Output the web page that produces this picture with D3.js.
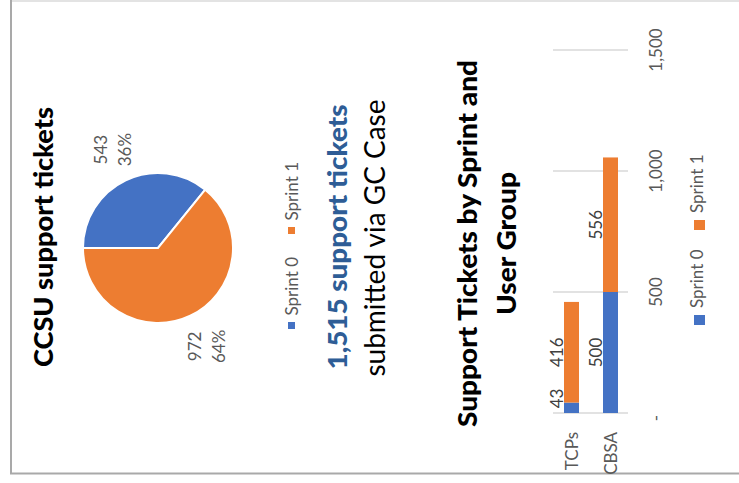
<!DOCTYPE html>
<html>
<head>
<meta charset="utf-8">
<script src="https://cdn.jsdelivr.net/npm/d3@7"></script>
<style>
  html, body { margin: 0; padding: 0; background: #ffffff; }
  svg { display: block; font-family: Lato, "Open Sans", sans-serif; }
</style>
</head>
<body>
<svg id="chart" width="739" height="483"></svg>
<script>
// ---- data ----
const seriesNames = ["Sprint 0", "Sprint 1"];
const pieValues = [543, 972];
const categories = ["TCPs", "CBSA"];
const sprint0 = [43, 500];
const sprint1 = [416, 556];
const valueTicks = [0, 500, 1000, 1500];
const tickLabels = ["-", "500", "1,000", "1,500"];
const pieTitle = "CCSU support tickets";
const barTitle = ["Support Tickets by Sprint and", "User Group"];
const subText = "submitted via GC Case";

// ---- style ----
const colors = ["#4472C4", "#ED7D31"];
const gray = "#595959";
const svg = d3.select("#chart");

// frame
svg.append("line").attr("x1", 11).attr("x2", 739).attr("y1", 1).attr("y2", 1)
  .attr("stroke", "#e3e3e3").attr("stroke-width", 2);
svg.append("line").attr("x1", 11).attr("x2", 11).attr("y1", 0).attr("y2", 474)
  .attr("stroke", "#a9a9a9").attr("stroke-width", 2);
svg.append("line").attr("x1", 10).attr("x2", 739).attr("y1", 473.5).attr("y2", 473.5)
  .attr("stroke", "#a9a9a9").attr("stroke-width", 2);

function rotText(x, y, txt, opts) {
  const t = svg.append("text")
    .attr("transform", `translate(${x},${y}) rotate(-90)`)
    .attr("text-anchor", opts.anchor || "middle")
    .attr("font-size", opts.size)
    .attr("font-weight", opts.weight || "normal")
    .attr("fill", opts.fill || "#000")
    .text(txt);
  if (opts.len) t.attr("textLength", opts.len).attr("lengthAdjust", "spacingAndGlyphs");
  return t;
}

// ---- pie ----
rotText(53, 237, pieTitle, { size: 27, weight: 900, len: 260 });

const cx = 158, cy = 248, r = 75;
const total = d3.sum(pieValues);
const pie = d3.pie().sort(null).startAngle(-Math.PI / 2).endAngle(3 * Math.PI / 2);
const arcs = pie(pieValues);
const arc = d3.arc().innerRadius(0).outerRadius(r);
const labelArc = d3.arc().innerRadius(109).outerRadius(109);
const pg = svg.append("g").attr("transform", `translate(${cx},${cy})`);
pg.selectAll("path").data(arcs).join("path")
  .attr("d", arc)
  .attr("fill", (d, i) => colors[i])
  .attr("stroke", "#ffffff").attr("stroke-width", 2);

const pct = d3.format(".0%");
arcs.forEach((d, i) => {
  const [lx, ly] = labelArc.centroid(d);
  const t = pg.append("text")
    .attr("transform", `translate(${lx},${ly}) rotate(-90)`)
    .attr("text-anchor", "middle")
    .attr("font-size", 17)
    .attr("fill", gray);
  t.append("tspan").attr("x", 0).attr("y", -4).text(d3.format(",")(d.data));
  t.append("tspan").attr("x", 0).attr("y", 20).text(pct(d.data / total));
});

// pie legend
const pieLegY = [325.5, 230.5];
seriesNames.forEach((s, i) => {
  svg.append("rect").attr("x", 288).attr("y", pieLegY[i] - 3.5).attr("width", 7).attr("height", 7)
    .attr("fill", colors[i]);
  rotText(298, pieLegY[i] - 10, s, { size: 17, anchor: "start", fill: gray });
});

// big numbers
rotText(347, 237, d3.format(",")(total) + " support tickets",
  { size: 27, weight: 900, fill: "#2E5D96", len: 265 });
rotText(385, 238, subText, { size: 28, len: 277 });

// ---- bar chart ----
rotText(477, 243.5, barTitle[0], { size: 27, weight: 900, len: 367 });
rotText(516, 243.5, barTitle[1], { size: 27, weight: 900, len: 143 });

const x = d3.scaleBand().domain(categories).range([552, 630])
  .paddingInner(24 / 39).paddingOuter(12 / 39);
const y = d3.scaleLinear().domain([0, 1500]).range([413, 50]);

// gridlines
svg.append("g").selectAll("line").data(valueTicks).join("line")
  .attr("x1", 553).attr("x2", 628)
  .attr("y1", d => y(d)).attr("y2", d => y(d))
  .attr("stroke", "#d9d9d9").attr("stroke-width", 1.5);

const rows = categories.map((c, i) => ({ cat: c, "Sprint 0": sprint0[i], "Sprint 1": sprint1[i] }));
const stacked = d3.stack().keys(seriesNames)(rows);

const bg = svg.append("g");
stacked.forEach((layer, si) => {
  bg.selectAll(null).data(layer).join("rect")
    .attr("x", d => x(d.data.cat))
    .attr("width", x.bandwidth())
    .attr("y", d => y(d[1]))
    .attr("height", d => y(d[0]) - y(d[1]))
    .attr("fill", colors[si]);
  layer.forEach(d => {
    const v = d[1] - d[0];
    const my = Math.min(y((d[0] + d[1]) / 2), y(0) - 14.5);
    svg.append("text")
      .attr("transform", `translate(${x(d.data.cat) - 1},${my}) rotate(-90)`)
      .attr("text-anchor", "middle")
      .attr("font-size", 17)
      .attr("fill", "#404040")
      .text(d3.format(",")(v));
  });
});

// category axis labels
categories.forEach(c => {
  rotText(x(c) + x.bandwidth() / 2 + 6, 432, c, { size: 17, anchor: "end", fill: gray });
});

// value axis tick labels
valueTicks.forEach((v, i) => {
  rotText(662, y(v) + (v === 0 ? 5 : 0), tickLabels[i], { size: 17, fill: gray });
});

// bar legend
const barLegY = [320, 225];
seriesNames.forEach((s, i) => {
  svg.append("rect").attr("x", 694).attr("y", barLegY[i] - 5).attr("width", 11).attr("height", 10)
    .attr("fill", colors[i]);
  rotText(703, barLegY[i] - 12, s, { size: 17, anchor: "start", fill: gray });
});
</script>
</body>
</html>
